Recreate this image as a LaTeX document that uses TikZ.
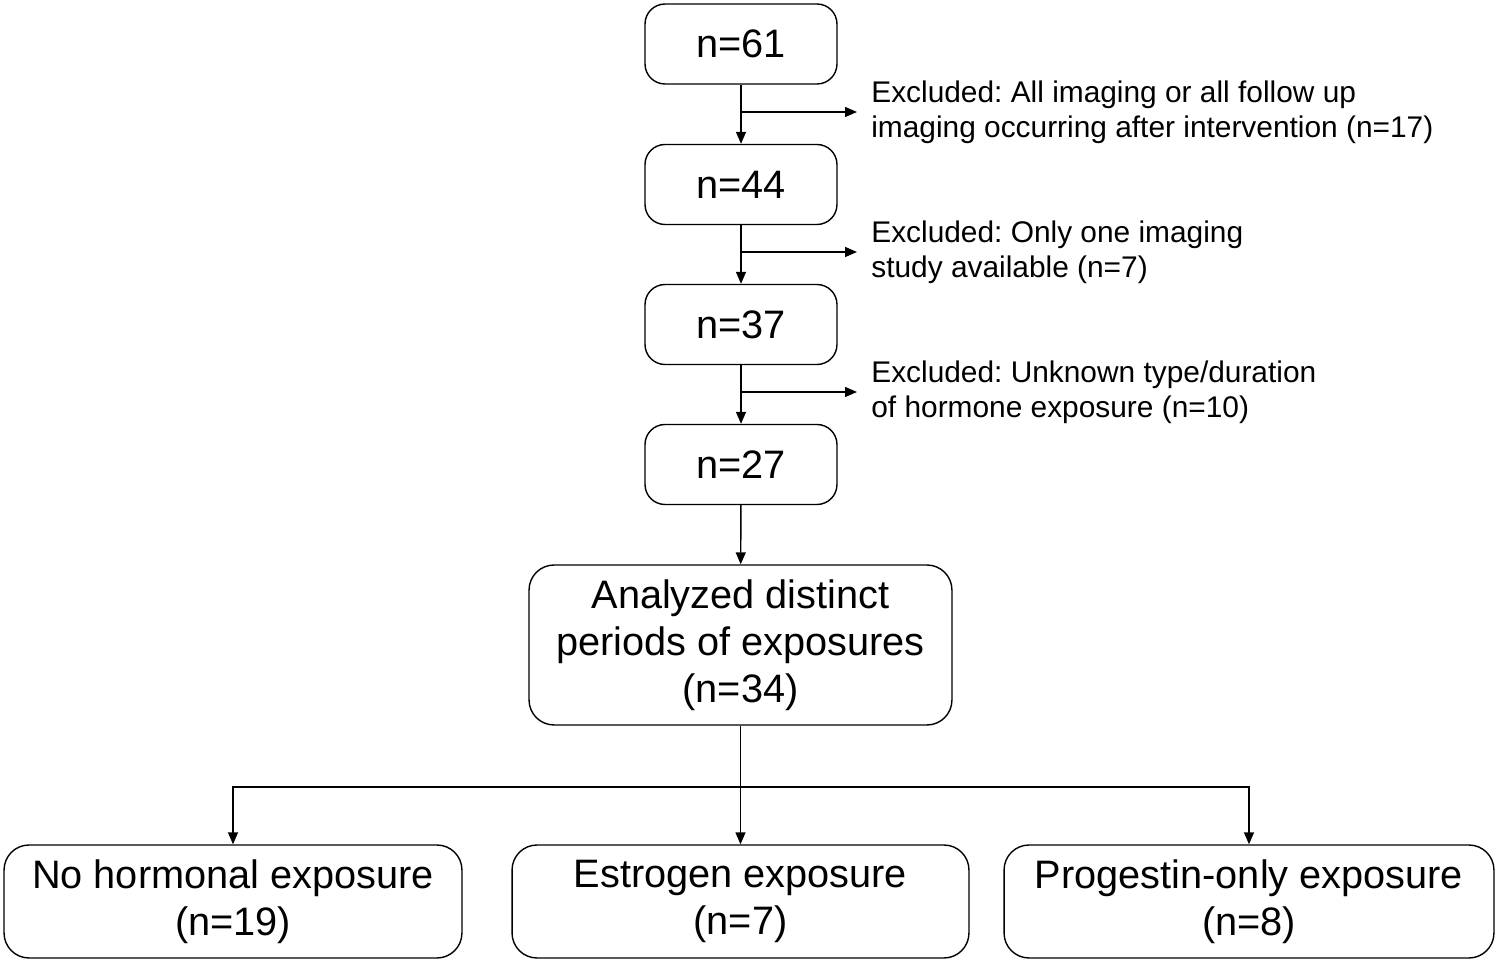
\documentclass[tikz,border=0pt]{standalone}
\usepackage{fontspec}
\setmainfont{Liberation Sans}
\frenchspacing
\usetikzlibrary{arrows.meta,calc}
\tikzset{
  box/.style={shape=rectangle, draw, rounded corners=0.4cm, line width=0.8pt, align=center,
    font=\fontsize{22.6}{26.8}\selectfont},
  nbox/.style={box, minimum width=3.84cm, minimum height=1.6cm},
  grpbox/.style={box, rounded corners=0.5cm, minimum height=2.26cm},
  excl/.style={anchor=west, inner sep=0.28cm, align=left, font=\fontsize{17}{19.9}\selectfont},
  arr/.style={-{Triangle[width=0.2cm,length=0.24cm]}, line width=0.8pt}
}
\begin{document}
\begin{tikzpicture}[x=0.02cm, y=-0.02cm]
\useasboundingbox (0,0) rectangle (1499,962);

\node[nbox] (n61) at (741,44){n=61};
\node[nbox] (n44) at (741,184.5){n=44};
\node[nbox] (n37) at (741,324.5){n=37};
\node[nbox] (n27) at (741,464.5){n=27};
\node[box, rounded corners=0.5cm, minimum width=8.46cm, minimum height=3.2cm] (an) at (740.5,645){Analyzed distinct\\periods of exposures\\(n=34)};

\node[excl] (ex1) at (857,112){Excluded: All imaging or all follow up\\imaging occurring after intervention (n=17)};
\node[excl] (ex2) at (857,252){Excluded: Only one imaging\\study available (n=7)};
\node[excl] (ex3) at (857,392){Excluded: Unknown type/duration\\of hormone exposure (n=10)};

\node[grpbox, minimum width=9.16cm] (noh) at (233,901.5){No hormonal exposure\\(n=19)};
\node[grpbox, minimum width=9.14cm] (est) at (740.5,901.5){Estrogen exposure\\(n=7)};
\node[grpbox, minimum width=9.8cm] (pro) at (1249,901.5){Progestin-only exposure\\(n=8)};

\coordinate (split) at (740.5,787);

\draw[arr](n61) -- (n44);
\draw[arr](n44) -- (n37);
\draw[arr](n37) -- (n27);
\draw[arr](n27) -- (an);
\draw[arr](n61.south |- ex1.west) -- (ex1.west);
\draw[arr](n44.south |- ex2.west) -- (ex2.west);
\draw[arr](n37.south |- ex3.west) -- (ex3.west);

\draw[arr](an) -- (est);
\draw[arr](split) -| (noh.north);
\draw[arr](split) -| (pro.north);

\end{tikzpicture}
\end{document}
